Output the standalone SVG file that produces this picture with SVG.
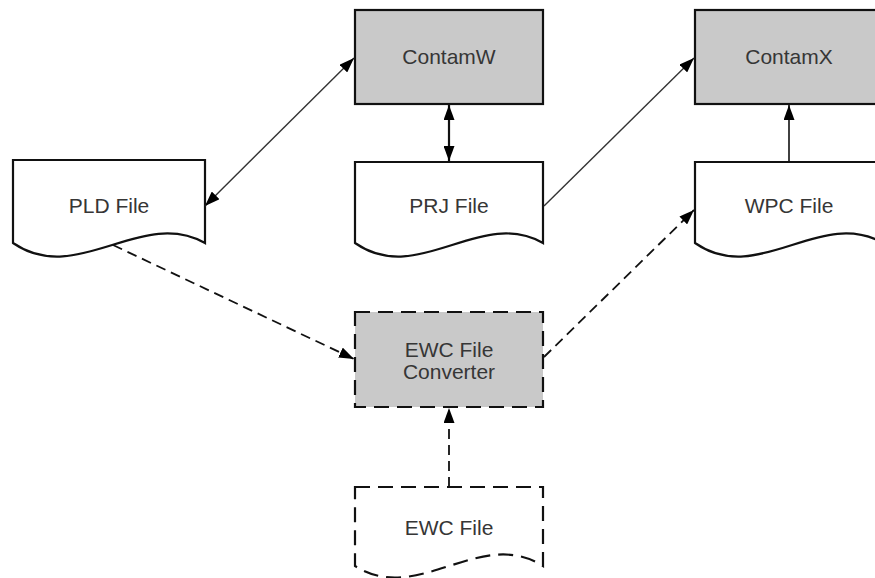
<svg xmlns="http://www.w3.org/2000/svg" width="875" height="578" viewBox="0 0 875 578">
<style>
.box{fill:#c9c9c9;stroke:#111;stroke-width:2.2}
.doc{fill:#fff;stroke:#111;stroke-width:2.2}
.dash{stroke-dasharray:15 8}
.lbl{font-family:"Liberation Sans",Arial,sans-serif;font-size:21px;fill:#363636;text-anchor:middle}
.con{fill:none;stroke:#333;stroke-width:1.4}
.dcon{fill:none;stroke:#111;stroke-width:1.8;stroke-dasharray:10 6}
</style>
<defs>
<marker id="ah" viewBox="0 0 15 11" refX="15" refY="5.5" markerWidth="15" markerHeight="11" markerUnits="userSpaceOnUse" orient="auto-start-reverse">
<path d="M0,0 L15,5.5 L0,11 Z" fill="#000"/>
</marker>
</defs>
<rect width="875" height="578" fill="#fff"/>
<g id="contamw">
<rect class="box" x="355" y="10" width="188" height="94"/>
<text class="lbl" x="449" y="64">ContamW</text>
</g>
<g id="contamx">
<rect class="box" x="695" y="10" width="188" height="94"/>
<text class="lbl" x="789" y="64">ContamX</text>
</g>
<g id="pld">
<path class="doc" d="M13,160 H205 V243 C141,207 77,287 13,243 Z"/>
<text class="lbl" x="109" y="213">PLD File</text>
</g>
<g id="prj">
<path class="doc" d="M355,162 H543 V243 C480,207 418,287 355,243 Z"/>
<text class="lbl" x="449" y="213">PRJ File</text>
</g>
<g id="wpc">
<path class="doc" d="M695,162 H883 V243 C820,207 758,287 695,243 Z"/>
<text class="lbl" x="789" y="213">WPC File</text>
</g>
<g id="converter">
<rect class="box dash" x="355" y="312" width="188" height="95"/>
<text class="lbl" x="449" y="357">EWC File</text>
<text class="lbl" x="449" y="379">Converter</text>
</g>
<g id="ewc">
<path class="doc dash" d="M355,487 H543 V566 C480,526 418,606 355,566 Z"/>
<text class="lbl" x="449" y="535">EWC File</text>
</g>
<g id="connectors">
<line class="con" x1="205" y1="206" x2="354" y2="58" marker-start="url(#ah)" marker-end="url(#ah)"/>
<line class="con" x1="449" y1="105" x2="449" y2="161" style="stroke-width:2.2;stroke:#111" marker-start="url(#ah)" marker-end="url(#ah)"/>
<line class="con" x1="544" y1="206" x2="694" y2="58" marker-end="url(#ah)"/>
<line class="con" x1="789" y1="162" x2="789" y2="105" style="stroke:#111;stroke-width:1.6" marker-end="url(#ah)"/>
<line class="dcon" x1="113" y1="245" x2="354" y2="359" marker-end="url(#ah)"/>
<line class="dcon" x1="544" y1="357" x2="694" y2="210" marker-end="url(#ah)"/>
<line class="dcon" x1="449" y1="487" x2="449" y2="408" marker-end="url(#ah)"/>
</g>
</svg>
